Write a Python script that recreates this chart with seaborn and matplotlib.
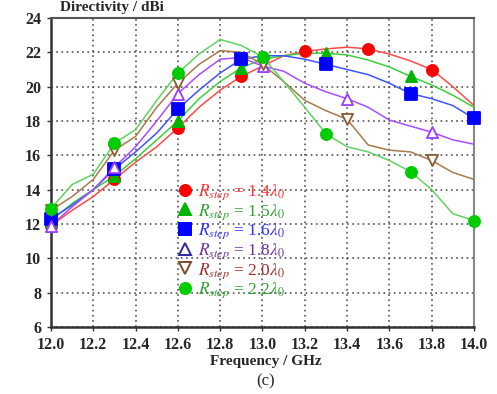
import numpy as np
import pandas as pd
import seaborn as sns
import matplotlib
matplotlib.use("Agg")
import matplotlib.pyplot as plt
from matplotlib.lines import Line2D

freq = [12.0, 12.1, 12.2, 12.3, 12.4, 12.5, 12.6, 12.7, 12.8, 12.9, 13.0,
        13.1, 13.2, 13.3, 13.4, 13.5, 13.6, 13.7, 13.8, 13.9, 14.0]

r14 = [11.9, 12.8, 13.6, 14.6, 15.6, 16.5, 17.6, 18.8, 19.8, 20.6, 21.2,
       21.8, 22.05, 22.2, 22.3, 22.2, 21.9, 21.5, 21.0, 20.0, 18.9]
r15 = [12.2, 13.2, 14.0, 14.8, 15.8, 16.9, 18.0, 19.3, 20.3, 21.1, 21.6,
       21.8, 21.95, 21.95, 21.85, 21.55, 21.15, 20.6, 20.1, 19.5, 18.8]
r16 = [12.3, 13.1, 14.0, 15.2, 16.2, 17.3, 18.7, 19.8, 20.8, 21.6, 21.8,
       21.8, 21.6, 21.3, 21.0, 20.7, 20.2, 19.6, 19.3, 18.9, 18.15]
r18 = [11.9, 13.0, 14.0, 15.3, 16.5, 18.0, 19.6, 20.7, 21.6, 21.7, 21.2,
       20.9, 20.2, 19.7, 19.3, 18.8, 18.05, 17.7, 17.35, 16.9, 16.65]
r20 = [12.8, 13.6, 14.6, 16.3, 17.1, 18.8, 20.2, 21.3, 22.1, 22.0, 21.3,
       20.3, 19.2, 18.6, 18.1, 16.6, 16.3, 16.2, 15.7, 15.0, 14.6]
r22 = [12.9, 14.3, 14.9, 16.7, 17.5, 19.2, 20.8, 21.9, 22.75, 22.4, 21.75,
       20.3, 18.8, 17.25, 16.5, 16.2, 15.7, 15.05, 14.0, 12.6, 12.2]

series_names = ["1.4", "1.5", "1.6", "1.8", "2.0", "2.2"]
series_vals = [r14, r15, r16, r18, r20, r22]
marker_freqs = [
    [12.0, 12.3, 12.6, 12.9, 13.2, 13.5, 13.8],
    [12.0, 12.3, 12.6, 12.9, 13.3, 13.7],
    [12.0, 12.3, 12.6, 12.9, 13.3, 13.7, 14.0],
    [12.0, 12.3, 12.6, 13.0, 13.4, 13.8],
    [12.0, 12.3, 12.6, 13.0, 13.4, 13.8],
    [12.0, 12.3, 12.6, 13.0, 13.3, 13.7, 14.0],
]

line_colors = ["#ff4a4a", "#3ccf3c", "#3c55ff", "#a94cff", "#a87a4a", "#5fd35f"]
mk_face = ["#ff0000", "#00b400", "#0000ff", "white", "white", "#00cc00"]
mk_edge = ["#ff0000", "#00b400", "#0000ff", "#9a3cff", "#8a5a30", "#00cc00"]
mk_shape = ["o", "^", "s", "^", "v", "o"]
leg_face = ["#ff0000", "#00b400", "#0000ff", "white", "white", "#00cc00"]
leg_edge = ["#ff0000", "#00b400", "#0000ff", "#2a2aa0", "#7a4a2a", "#00cc00"]
text_colors = ["#ff3030", "#30a030", "#3030ff", "#7030a0", "#a03030", "#30a030"]

rows = []
for name, vals in zip(series_names, series_vals):
    for f, v in zip(freq, vals):
        rows.append({"freq": f, "D": v, "series": name})
df = pd.DataFrame(rows)

sns.set_style("white")
plt.rcParams["font.family"] = ["Liberation Serif", "DejaVu Serif"]
plt.rcParams["mathtext.fontset"] = "stix"

fig = plt.figure(figsize=(4.97, 3.94), dpi=100)
ax = fig.add_axes([51 / 497, 1 - 327 / 394, 423 / 497, 309 / 394])

sns.lineplot(data=df, x="freq", y="D", hue="series", palette=line_colors,
             hue_order=series_names, legend=False, ax=ax, linewidth=1.1,
             zorder=3)

for i, name in enumerate(series_names):
    sub = df[(df["series"] == name) & (df["freq"].round(2).isin([round(m, 2) for m in marker_freqs[i]]))]
    sns.scatterplot(data=sub, x="freq", y="D", marker=mk_shape[i], s=64,
                    color=mk_face[i], edgecolor=mk_edge[i],
                    linewidth=1.3, ax=ax, zorder=4, legend=False)
for coll in ax.collections:
    coll.set_clip_on(False)

ax.set_xlim(12.0, 14.0)
ax.set_ylim(6, 24)
ax.set_xticks(np.arange(12.0, 14.01, 0.2))
ax.set_yticks(np.arange(6, 24.1, 2))
ax.set_xticklabels([f"{t:.1f}" for t in np.arange(12.0, 14.01, 0.2)])
ax.set_yticklabels([f"{int(t)}" for t in np.arange(6, 24.1, 2)])
ax.grid(True, linestyle=(0, (1.1, 2.3)), color="#444444", linewidth=1.1)
ax.set_axisbelow(True)
for lab in ax.get_xticklabels() + ax.get_yticklabels():
    lab.set_fontweight("bold")
    lab.set_fontsize(11.5)
ax.tick_params(axis="both", length=3, width=1, color="#333333", pad=4,
               direction="out", bottom=True, left=True)
ax.set_xlabel("")
ax.set_ylabel("")

ax.spines["left"].set_color("#333333")
ax.spines["left"].set_linewidth(1.8)
ax.spines["bottom"].set_color("#333333")
ax.spines["bottom"].set_linewidth(1.8)
ax.spines["top"].set_color("#555555")
ax.spines["top"].set_linewidth(1.5)
ax.spines["right"].set_color("#888888")
ax.spines["right"].set_linewidth(1.5)

handles = []
labels = []
for i, name in enumerate(series_names):
    handles.append(Line2D([], [], linestyle="none", marker=mk_shape[i],
                          markersize=8, markerfacecolor=leg_face[i],
                          markeredgecolor=leg_edge[i], markeredgewidth=1.4))
    labels.append(r"$R_{step}$ = " + name + r"$\lambda_0$")
leg = ax.legend(handles, labels, loc="center left",
                bbox_to_anchor=(0.298, 0.277), frameon=False, fontsize=12.5,
                handlelength=0.9, handletextpad=0.3, labelspacing=0.0,
                borderpad=0, borderaxespad=0)
for t, c in zip(leg.get_texts(), text_colors):
    t.set_color(c)
leg.set_zorder(5)

fig.text(60 / 497, 1 - 8 / 394, "Directivity / dBi", fontsize=11,
         fontweight="bold", ha="left", va="center")
fig.text(266 / 497, 1 - 361 / 394, "Frequency / GHz", fontsize=11,
         fontweight="bold", ha="center", va="center")
fig.text(266 / 497, 1 - 381 / 394, "(c)", fontsize=12,
         ha="center", va="center")

fig.savefig("out.png", dpi=100)
